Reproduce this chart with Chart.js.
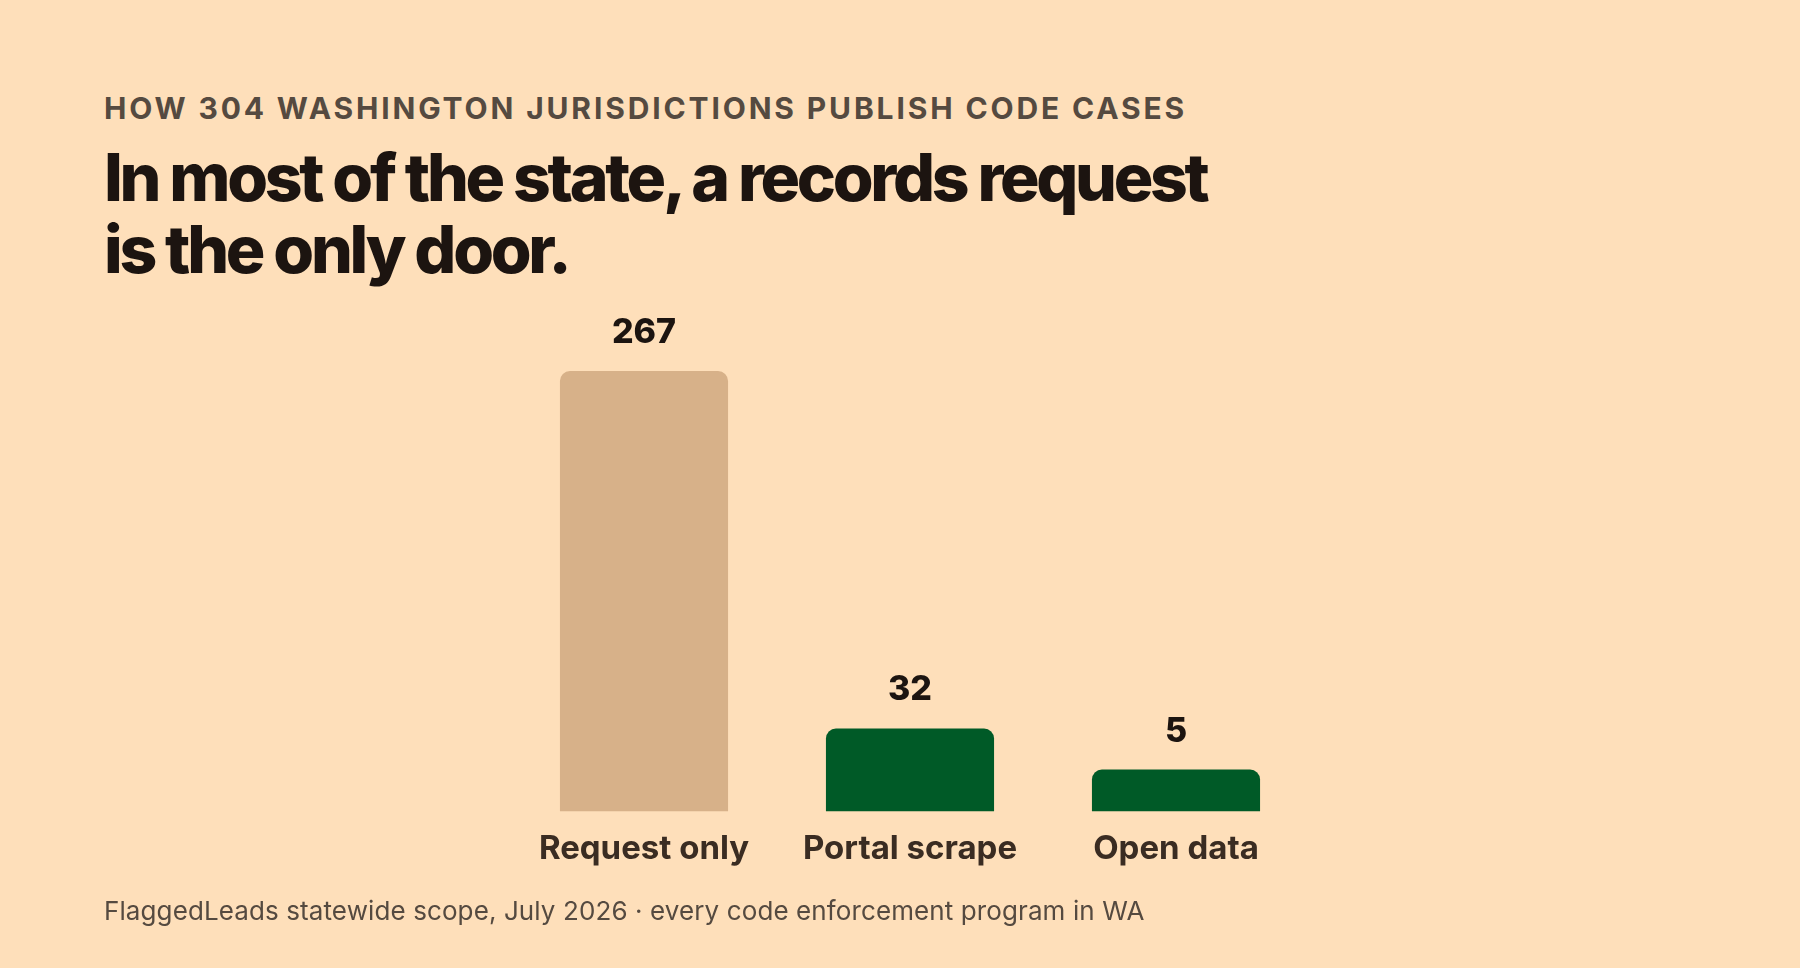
<!DOCTYPE html>
<html>
<head>
<meta charset="utf-8">
<script src="https://cdn.jsdelivr.net/npm/chart.js@4/dist/chart.umd.min.js"></script>
<style>
  html, body { margin: 0; padding: 0; }
  body { width: 1800px; height: 968px; background: #FEDFBA; position: relative; overflow: hidden; font-family: Inter, "Noto Sans", sans-serif; }
  #kicker { position: absolute; left: 104px; top: 93px; font-size: 30px; line-height: 30px; font-weight: 700; letter-spacing: 0.095em; color: #554A40; white-space: nowrap; }
  #title { position: absolute; left: 104px; top: 141px; font-size: 66px; line-height: 72px; font-weight: 800; letter-spacing: -0.05em; color: #1C1410; white-space: nowrap; }
  #foot { position: absolute; left: 104px; top: 898px; font-size: 26px; line-height: 26px; font-weight: 400; letter-spacing: 0.004em; color: #554A40; white-space: nowrap; }
  #wrap { position: absolute; left: 0; top: 0; width: 1800px; height: 968px; }
</style>
</head>
<body>
<div id="kicker">HOW 304 WASHINGTON JURISDICTIONS PUBLISH CODE CASES</div>
<div id="title">In most of the state, a records request<br>is the only door.</div>
<div id="wrap"><canvas id="c"></canvas></div>
<div id="foot">FlaggedLeads statewide scope, July 2026 · every code enforcement program in WA</div>
<script>
const categories = ["Request only", "Portal scrape", "Open data"];
const counts = [267, 32, 5];
const barColors = ["#D7B189", "#005A27", "#005A27"];
const valueFloor = -22.5;

const valueLabels = {
  id: 'valueLabels',
  afterDatasetsDraw(chart) {
    const ctx = chart.ctx;
    const meta = chart.getDatasetMeta(0);
    ctx.save();
    ctx.font = '800 34px Inter';
    ctx.fillStyle = '#1C1410';
    ctx.textAlign = 'center';
    ctx.textBaseline = 'alphabetic';
    meta.data.forEach((bar, i) => {
      ctx.fillText(String(chart.data.datasets[0].data[i]), bar.x, bar.y - 28);
    });
    ctx.restore();
  }
};

new Chart(document.getElementById('c'), {
  type: 'bar',
  data: {
    labels: categories,
    datasets: [{
      data: counts,
      backgroundColor: barColors,
      base: valueFloor,
      borderRadius: 10,
      borderSkipped: 'start',
      barPercentage: 1,
      categoryPercentage: 0.632
    }]
  },
  options: {
    responsive: true,
    maintainAspectRatio: false,
    animation: false,
    layout: { padding: { left: 511, right: 491, top: 371, bottom: 81 } },
    plugins: { legend: { display: false }, tooltip: { enabled: false } },
    scales: {
      y: { display: false, min: valueFloor, max: 267 },
      x: {
        grid: { display: false, drawTicks: false },
        border: { display: false },
        ticks: { color: '#3A2C22', font: { family: 'Inter', size: 33, weight: '700', lineHeight: 1.2 }, padding: 18, maxRotation: 0, autoSkip: false }
      }
    }
  },
  plugins: [valueLabels]
});
</script>
</body>
</html>
